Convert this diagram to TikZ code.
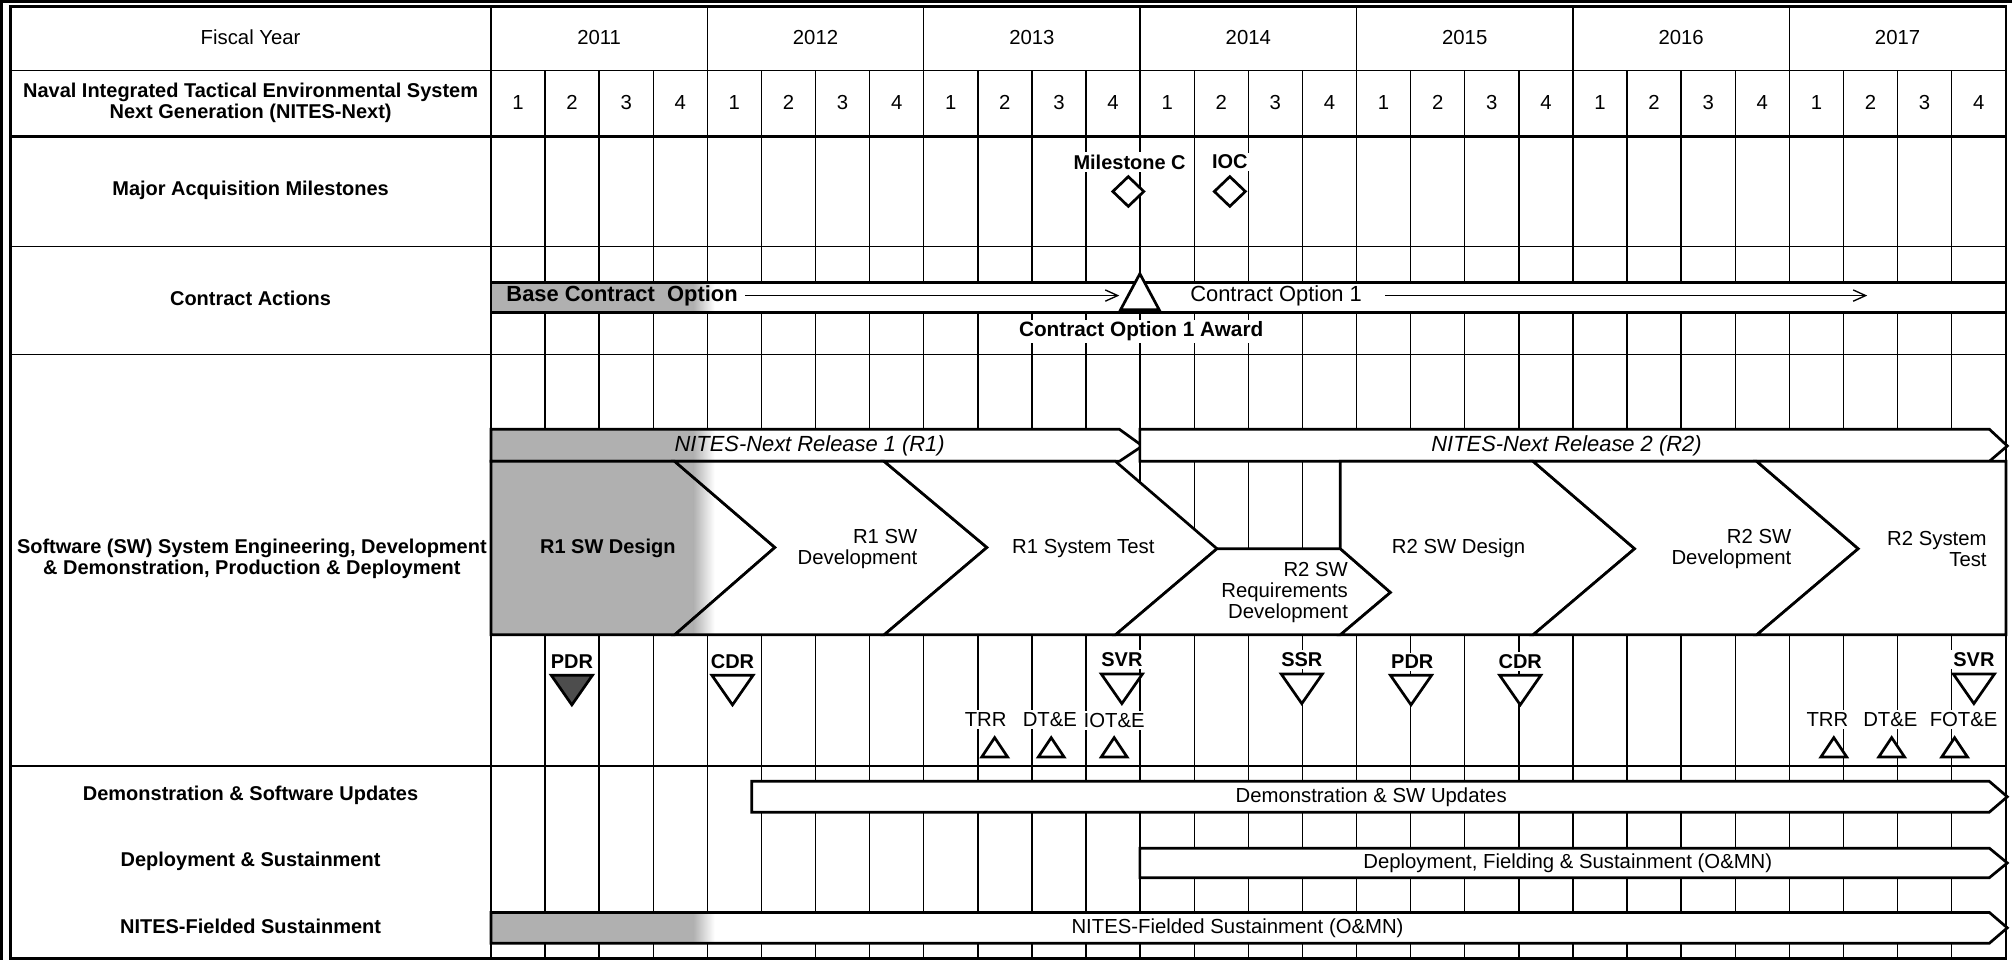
\documentclass[tikz,border=0pt]{standalone}
\usepackage{fontspec}
\setmainfont{Liberation Sans}
\usetikzlibrary{arrows.meta, positioning, calc, shapes.geometric}
\definecolor{DoneGray}{HTML}{B0B0B0}
\definecolor{PdrGray}{HTML}{4D4D4D}
\newcommand{\chartfont}{\fontsize{9}{9.2}\selectfont}
\newcommand{\boldfont}{\fontsize{8.85}{9.2}\selectfont\bfseries}
\newcommand{\barfont}{\fontsize{9.7}{10}\selectfont}

\tikzset{
  grid/.style={line width=0.6pt},
  outline/.style={line width=1.2pt, fill=white},
  done/.style={path picture={
      \fill[DoneGray] (382,0) rectangle (540,760);
      \shade[left color=DoneGray, right color=white] (539.5,0) rectangle (556,760);}},
  lbl/.style={font=\chartfont, inner sep=1pt, align=center},
  blbl/.style={font=\boldfont, inner sep=1pt, align=center},
  review/.style={blbl, fill=white},
  testlbl/.style={lbl, fill=white},
  msdiamond/.style={diamond, draw, line width=1.2pt, fill=white, inner sep=0pt,
    minimum width=0.5cm, minimum height=0.48cm},
  pics/downtri/.style={code={\draw[outline, fill=#1] (-16,-11.5) -- (16,-11.5) -- (0,11.5) -- cycle;}},
  pics/downtri/.default=white,
  pics/uptri/.style={code={\draw[outline] (-10,7.5) -- (10,7.5) -- (0,-7.5) -- cycle;}},
}

\begin{document}
\begin{tikzpicture}[x=0.02cm, y=-0.02cm, >={Straight Barb[length=5.5pt,width=5pt]}]
  \useasboundingbox (0,0) rectangle (1568,747);
  % Grid: quarters, years, rows
  \foreach \k in {1,...,27}
    \draw[grid] ({382+\k*42.1},55) -- ({382+\k*42.1},746);
  \foreach \k in {4,8,...,24}
    \draw[grid] ({382+\k*42.1},5) -- ({382+\k*42.1},55);
  \foreach \y in {55,192,276,596}
    \draw[grid] (8,\y) -- (1561,\y);
  \draw[line width=1.3pt] (8,106) -- (1561,106);
  \draw[grid] (382,5) -- (382,746);
  % Frame
  \draw[line width=1.2pt] (8,5) rectangle (1561,746);
  \draw[line width=1.2pt] (1,747) -- (1,1) -- (1566,1);

  % Row headings
  \node[lbl] (fiscal) at (195,29) {Fiscal Year};
  \node[blbl] (system) at (195,80) {Naval Integrated Tactical Environmental System\\Next Generation (NITES-Next)};
  \node[blbl] (milestones) at (195,148) {Major Acquisition Milestones};
  \node[blbl] (contracts) at (195,232) {Contract Actions};
  \node[blbl] (software) at (196,435) {Software (SW) System Engineering, Development\\\& Demonstration, Production \& Deployment};
  \node[blbl] (demo) at (195,619) {Demonstration \& Software Updates};
  \node[blbl] (deploy) at (195,670) {Deployment \& Sustainment};
  \node[blbl] (fielded) at (195,721) {NITES-Fielded Sustainment};

  % Years and quarters
  \foreach \yr [count=\i from 0] in {2011,...,2017}
    \node[lbl] (fy\yr) at ({382+(4*\i+2)*42.1},29) {\yr};
  \foreach \k in {0,...,27} {
    \pgfmathtruncatemacro{\qn}{mod(\k,4)+1}
    \node[lbl] (q\k) at ({382+(\k+0.5)*42.1},80) {\qn};
  }

  % Major acquisition milestones
  \node[review] (msClbl) at (879,126) {Milestone C};
  \node[msdiamond] (msC) at (878,149) {};
  \node[review] (ioclbl) at (957,126) {IOC};
  \node[msdiamond] (ioc) at (957,149) {};

  % Contract actions
  \draw[outline, done] (382,220) rectangle (1561,243);
  \draw[outline] (872,241) -- (887,213) -- (902,241) -- cycle;
  \node[blbl, font=\barfont\bfseries, anchor=west] (base) at (392,230) {Base Contract\ \ Option};
  \node[lbl, font=\barfont] (option1) at (993,230) {Contract Option 1};
  \coordinate (baseS) at (580,230);
  \coordinate (baseE) at (871,230);
  \coordinate (opt1S) at (1078,230);
  \coordinate (opt1E) at (1453,230);
  \draw[->, line width=0.6pt] (baseS) -- (baseE);
  \draw[->, line width=0.6pt] (opt1S) -- (opt1E);
  \node[blbl, font=\fontsize{9.2}{9.5}\selectfont\bfseries, fill=white] (award) at (888,258) {Contract Option 1 Award};

  % Releases
  \draw[outline, done] (382,334) -- (871,334) -- (889,347) -- (871,359) -- (382,359) -- cycle;
  \draw[outline] (887,334) -- (1548,334) -- (1562,347) -- (1548,359) -- (887,359) -- cycle;
  \node[lbl, font=\barfont\itshape] (rel1) at (630,347) {NITES-Next Release 1 (R1)};
  \node[lbl, font=\barfont\itshape] (rel2) at (1219,347) {NITES-Next Release 2 (R2)};

  % SW phases
  \draw[outline, done] (382,359) -- (525,359) -- (603,426) -- (525,494) -- (382,494) -- cycle;
  \draw[outline, done] (525,359) -- (688,359) -- (768,426) -- (688,494) -- (525,494) -- (603,426) -- cycle;
  \draw[outline] (688,359) -- (868,359) -- (947,427) -- (868,494) -- (688,494) -- (768,426) -- cycle;
  \draw[outline] (947,427) -- (1043,427) -- (1082,461) -- (1043,494) -- (868,494) -- cycle;
  \draw[outline] (1043,359) -- (1193,359) -- (1272,427) -- (1193,494) -- (1043,494) -- (1082,461) -- (1043,427) -- cycle;
  \draw[outline] (1193,359) -- (1367,359) -- (1446,427) -- (1367,494) -- (1193,494) -- (1272,427) -- cycle;
  \draw[outline] (1367,359) -- (1561,359) -- (1561,494) -- (1367,494) -- (1446,427) -- cycle;
  \node[blbl] (r1des) at (473,427) {R1 SW Design};
  \node[lbl, anchor=east, align=right] (r1dev) at (716,427) {R1 SW\\Development};
  \node[lbl] (r1test) at (843,427) {R1 System Test};
  \node[lbl, anchor=east, align=right] (r2req) at (1051,461) {R2 SW\\Requirements\\Development};
  \node[lbl] (r2des) at (1135,427) {R2 SW Design};
  \node[lbl, anchor=east, align=right] (r2dev) at (1396,427) {R2 SW\\Development};
  \node[lbl, anchor=east, align=right] (r2test) at (1548,427) {R2 System\\Test};

  % Reviews
  \node[review] (pdr1) at (445,515) {PDR};
  \node[review] (cdr1) at (570,515) {CDR};
  \node[review] (svr1) at (873,513) {SVR};
  \node[review] (ssr) at (1013,513) {SSR};
  \node[review] (pdr2) at (1099,515) {PDR};
  \node[review] (cdr2) at (1183,515) {CDR};
  \node[review] (svr2) at (1536,513) {SVR};
  \pic at (445,537) {downtri=PdrGray};
  \foreach \x/\y in {570/537, 873/536, 1013/536, 1098/537, 1183/537, 1536/536}
    \pic at (\x,\y) {downtri};
  % Tests
  \node[testlbl] (trr1) at (767,560) {TRR};
  \node[testlbl] (dte1) at (817,560) {DT\&E};
  \node[testlbl] (iote) at (867,561) {IOT\&E};
  \node[testlbl] (trr2) at (1422,560) {TRR};
  \node[testlbl] (dte2) at (1471,560) {DT\&E};
  \node[testlbl] (fote) at (1528,560) {FOT\&E};
  \foreach \x in {774, 818, 867, 1427, 1472, 1521}
    \pic at (\x,581.5) {uptri};

  % Updates, deployment and sustainment
  \draw[outline] (585,608) -- (1548,608) -- (1562,620) -- (1548,632) -- (585,632) -- cycle;
  \draw[outline] (887,660) -- (1548,660) -- (1562,671.5) -- (1548,683) -- (887,683) -- cycle;
  \draw[outline, done] (382,710) -- (1548,710) -- (1562,722) -- (1548,734) -- (382,734) -- cycle;
  \node[lbl] (demotxt) at (1067,620) {Demonstration \& SW Updates};
  \node[lbl] (deploytxt) at (1220,671.5) {Deployment, Fielding \& Sustainment (O\&MN)};
  \node[lbl] (fieldtxt) at (963,722) {NITES-Fielded Sustainment (O\&MN)};
\end{tikzpicture}
\end{document}
